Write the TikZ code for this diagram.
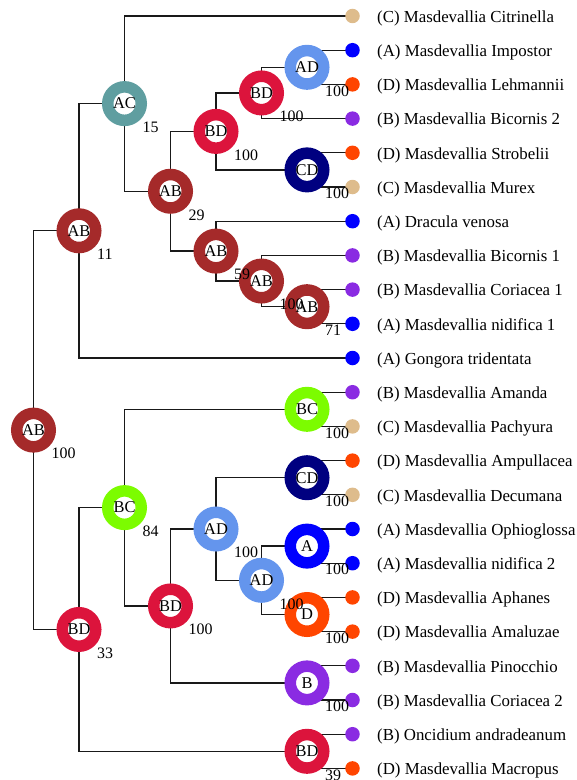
\documentclass[tikz,border=0pt]{standalone}
\usepackage{fontspec}
\setmainfont{Liberation Serif}
\usetikzlibrary{calc,backgrounds}
\definecolor{cAB}{RGB}{165,42,42}
\definecolor{cAC}{RGB}{95,158,160}
\definecolor{cBD}{RGB}{220,20,60}
\definecolor{cAD}{RGB}{100,149,237}
\definecolor{cCD}{RGB}{0,0,128}
\definecolor{cBC}{RGB}{124,252,0}
\definecolor{cA}{RGB}{0,0,255}
\definecolor{cD}{RGB}{255,69,0}
\definecolor{cB}{RGB}{138,43,226}
\definecolor{cC}{RGB}{222,188,140}
\tikzset{
  ring/.style={circle, draw=#1, fill=white, line width=11.5bp, minimum size=33.5bp, inner sep=0pt, font=\fontsize{16.5}{18}\selectfont},
  tipdot/.style={circle, fill=#1, minimum size=14.5bp, inner sep=0pt},
  tiptext/.style={anchor=base west, inner sep=0pt, font=\fontsize{16.9}{19}\selectfont},
  numlbl/.style={anchor=north west, inner sep=0pt, font=\fontsize{16}{18}\selectfont},
  edge/.style={draw=black!90, line width=1.3bp}
}
\begin{document}
\begin{tikzpicture}[x=1bp,y=-1bp]
\useasboundingbox (0,0) rectangle (577,780);
% tips
\foreach \i/\c/\t in {0/C/{(C) Masdevallia Citrinella},1/A/{(A) Masdevallia Impostor},2/D/{(D) Masdevallia Lehmannii},3/B/{(B) Masdevallia Bicornis 2},4/D/{(D) Masdevallia Strobelii},5/C/{(C) Masdevallia Murex},6/A/{(A) Dracula venosa},7/B/{(B) Masdevallia Bicornis 1},8/B/{(B) Masdevallia Coriacea 1},9/A/{(A) Masdevallia nidifica 1},10/A/{(A) Gongora tridentata},11/B/{(B) Masdevallia Amanda},12/C/{(C) Masdevallia Pachyura},13/D/{(D) Masdevallia Ampullacea},14/C/{(C) Masdevallia Decumana},15/A/{(A) Masdevallia Ophioglossa},16/A/{(A) Masdevallia nidifica 2},17/D/{(D) Masdevallia Aphanes},18/D/{(D) Masdevallia Amaluzae},19/B/{(B) Masdevallia Pinocchio},20/B/{(B) Masdevallia Coriacea 2},21/B/{(B) Oncidium andradeanum},22/D/{(D) Masdevallia Macropus}}{
  \pgfmathsetmacro{\yy}{16+34.2*\i}
  \node[tipdot=c\c] (t\i) at (352.5,\yy) {};
  \node[tiptext] (l\i) at (377,\yy+6.3) {\t};
}
% internal nodes (top clade)
\node[ring=cAD] (n1) at (307,67.3) {AD};
\node[ring=cBD] (n2) at (261.5,92.95) {BD};
\node[ring=cCD] (n3) at (307,169.9) {CD};
\node[ring=cBD] (n4) at (216,131.4) {BD};
\node[ring=cAB] (n5) at (307,306.7) {AB};
\node[ring=cAB] (n6) at (261.5,281.05) {AB};
\node[ring=cAB] (n7) at (216,251.1) {AB};
\node[ring=cAB] (n8) at (170.5,191.25) {AB};
\node[ring=cAC] (n9) at (124.5,103.6) {AC};
\node[ring=cAB] (n10) at (79,230.8) {AB};
% bottom clade
\node[ring=cBC] (m1) at (307,409.3) {BC};
\node[ring=cCD] (m2) at (307,477.7) {CD};
\node[ring=cA] (m3) at (307,546.1) {A};
\node[ring=cD] (m4) at (307,614.5) {D};
\node[ring=cAD] (m5) at (261.5,580.3) {AD};
\node[ring=cAD] (m6) at (216,529) {AD};
\node[ring=cB] (m7) at (307,682.9) {B};
\node[ring=cBD] (m8) at (170.5,605.95) {BD};
\node[ring=cBC] (m9) at (124.5,507.6) {BC};
\node[ring=cBD] (m10) at (307,751.3) {BD};
\node[ring=cBD] (m11) at (79,629.45) {BD};
\node[ring=cAB] (r) at (33.5,430.1) {AB};
% edges
\begin{scope}[on background layer]
\foreach \p/\c in {n1/t1,n1/t2,n2/n1,n2/t3,n3/t4,n3/t5,n4/n2,n4/n3,n5/t8,n5/t9,n6/t7,n6/n5,n7/t6,n7/n6,n8/n4,n8/n7,n9/t0,n9/n8,n10/n9,n10/t10,
  m1/t11,m1/t12,m2/t13,m2/t14,m3/t15,m3/t16,m4/t17,m4/t18,m5/m3,m5/m4,m6/m2,m6/m5,m7/t19,m7/t20,m8/m6,m8/m7,m9/m1,m9/m8,m10/t21,m10/t22,m11/m9,m11/m10,r/n10,r/m11}
  \draw[edge] (\p.center) |- (\c.center);
\end{scope}
% support values
\foreach \n/\v in {n1/100,n2/100,n3/100,n4/100,n5/71,n6/100,n7/59,n8/29,n9/15,n10/11,m1/100,m2/100,m3/100,m4/100,m5/100,m6/100,m7/100,m8/100,m9/84,m10/39,m11/33,r/100}
  \node[numlbl] (v\n) at ($(\n.center)+(18,18)$) {\v};
\end{tikzpicture}
\end{document}
